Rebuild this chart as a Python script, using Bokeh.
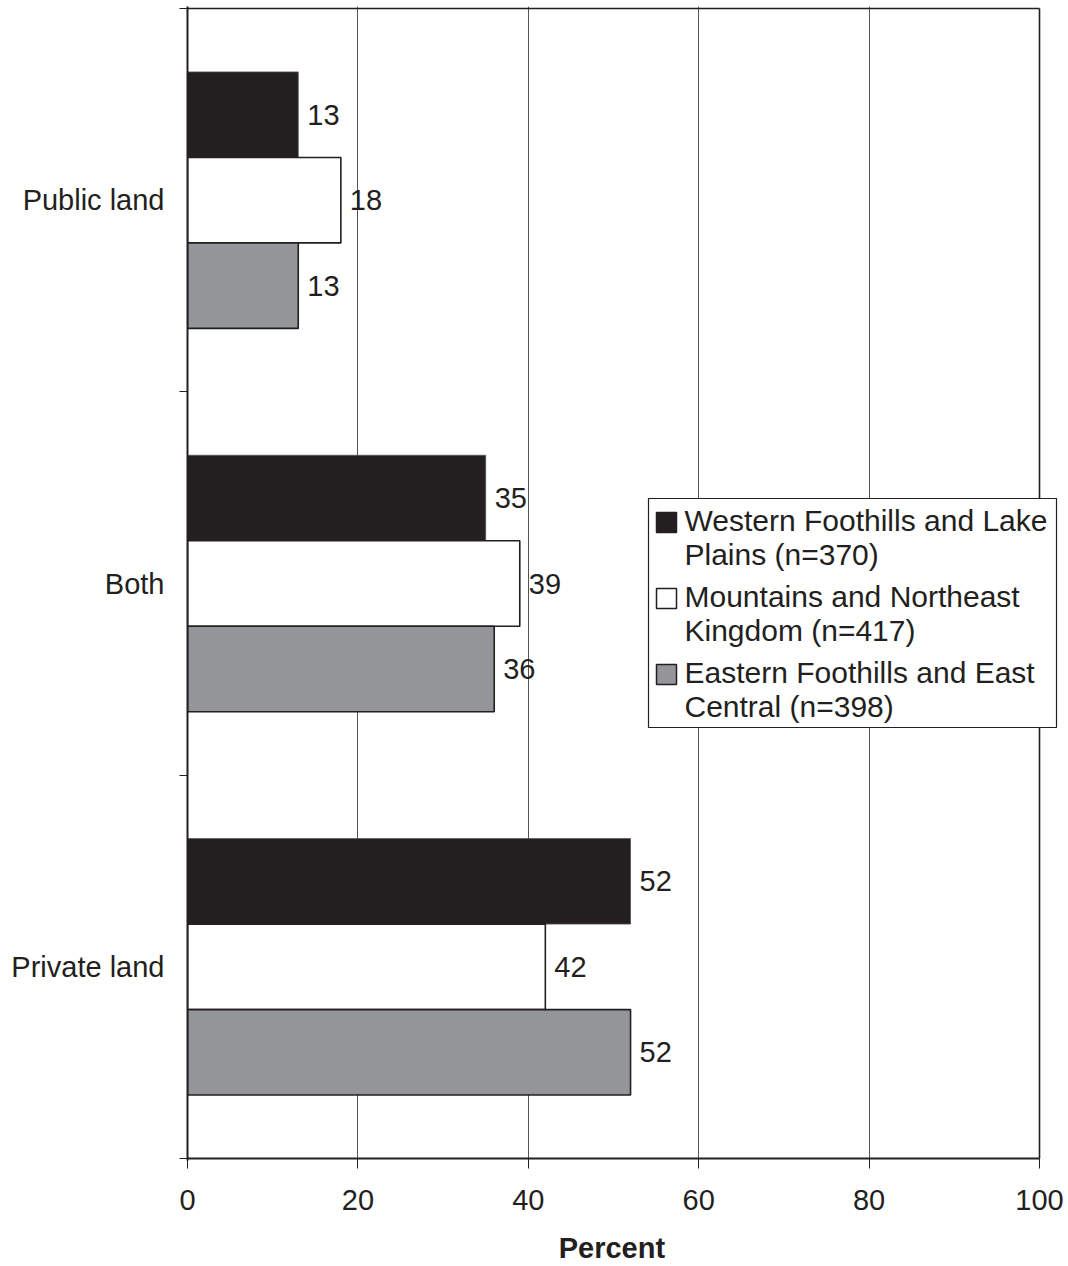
from bokeh.plotting import figure
from bokeh.models import ColumnDataSource, Range1d, FixedTicker
from bokeh.core.properties import value
from bokeh.embed import file_html
from bokeh.resources import INLINE

# Land type categories (bottom to top on the axis)
categories = ["Private land", "Both", "Public land"]

# Percent of respondents by region
western = [52, 35, 13]
mountains = [42, 39, 18]
eastern = [52, 36, 13]

series_names = [
    "Western Foothills and Lake\nPlains (n=370)",
    "Mountains and Northeast\nKingdom (n=417)",
    "Eastern Foothills and East\nCentral (n=398)",
]
x_ticks = [0, 20, 40, 60, 80, 100]

FONT = "Liberation Sans"
INK = "#231F20"
colors = [INK, "#FFFFFF", "#939598"]
offsets = [0.223, 0.0, -0.223]
bar_h = 0.223

# Page geometry (pixels)
W, H = 1068, 1266
AX_LEFT, AX_RIGHT = 187, 1039      # x = 0 and x = 100
AX_TOP, AX_BOTTOM = 8, 1158        # y = 3 and y = 0
FRAME_RIGHT = 1060                 # room for the legend box past x = 100
PAD = 2                            # keeps edge lines from being clipped

XPX = (AX_RIGHT - AX_LEFT) / 100.0
YPX = (AX_BOTTOM - AX_TOP) / 3.0

x_end = (FRAME_RIGHT - AX_LEFT) / XPX
y_start = -PAD / YPX
y_end = 3 + PAD / YPX

p = figure(width=W, height=H, output_backend="svg", toolbar_location=None,
           x_range=Range1d(0, x_end), y_range=Range1d(y_start, y_end),
           min_border_left=AX_LEFT, min_border_right=W - FRAME_RIGHT,
           min_border_top=AX_TOP - PAD, min_border_bottom=H - AX_BOTTOM - PAD)
p.background_fill_color = "white"
p.border_fill_color = "white"
p.outline_line_color = None

centers = [i + 0.5 for i in range(len(categories))]

for vals, col, off in zip([western, mountains, eastern], colors, offsets):
    ys = [c + off for c in centers]
    src = ColumnDataSource(dict(y=ys, x=vals, lab=[str(v) for v in vals]))
    p.hbar(y="y", right="x", left=0, height=bar_h, source=src,
           fill_color=col, line_color=INK if col != INK else "#555555",
           line_width=1.6 if col != INK else 0.8)
    p.text(x="x", y="y", text="lab", source=src, x_offset=9,
           text_align="left", text_baseline="middle",
           text_font=value(FONT), text_font_size="29px", text_color=INK)

# Plot box: bottom axis line, top and right borders end at x = 100
p.segment(x0=[0, 0, 100], y0=[0, 3, 0], x1=[100, 100, 100], y1=[0, 3, 3],
          line_color=INK, line_width=[2, 1.6, 1.6])

# x axis; trailing no-break spaces centre the title under 0-100
p.xaxis.ticker = FixedTicker(ticks=x_ticks)
p.xaxis.axis_label = "Percent" + "\u00a0" * 3
p.xaxis.axis_label_text_font = FONT
p.xaxis.axis_label_text_font_style = "bold"
p.xaxis.axis_label_text_font_size = "29px"
p.xaxis.axis_label_text_color = INK
p.xaxis.axis_label_standoff = 19
p.xaxis.major_label_text_font = FONT
p.xaxis.major_label_text_font_size = "29px"
p.xaxis.major_label_text_color = INK
p.xaxis.major_label_standoff = 21
p.xaxis.major_tick_out = 8
p.xaxis.major_tick_in = PAD
p.xaxis.minor_tick_out = 0
p.xaxis.axis_line_color = None
p.xaxis.major_tick_line_color = INK

# y axis: labels at category centres, ticks at category boundaries
p.yaxis.ticker = FixedTicker(ticks=centers, minor_ticks=[0, 1, 2, 3])
p.yaxis.major_label_overrides = {c: n for c, n in zip(centers, categories)}
p.yaxis.major_tick_out = 0
p.yaxis.major_tick_in = 0
p.yaxis.minor_tick_out = 8
p.yaxis.minor_tick_in = 0
p.yaxis.minor_tick_line_color = INK
p.yaxis.major_label_text_font = FONT
p.yaxis.major_label_text_font_size = "29px"
p.yaxis.major_label_text_color = INK
p.yaxis.major_label_standoff = 15
p.yaxis.axis_line_color = INK
p.yaxis.axis_line_width = 2

p.xgrid.ticker = FixedTicker(ticks=x_ticks[1:-1])
p.xgrid.grid_line_color = "#555555"
p.xgrid.grid_line_width = 1
p.ygrid.grid_line_color = None


# Legend, laid out in page pixels and converted to data units
def dx(px):
    return (px - AX_LEFT) / XPX


def dy(py):
    return (AX_BOTTOM - py) / YPX


box_l, box_r, box_t, box_b = 648, 1056, 498, 727
p.quad(left=dx(box_l), right=dx(box_r), top=dy(box_t), bottom=dy(box_b),
       fill_color="white", line_color=INK, line_width=1.2)

sw_left, sw_size, sw_top, item_pitch = 656, 20, 512, 76
text_left, first_base, line_pitch = 684, 532, 33.5
sw_src = dict(l=[], r=[], t=[], b=[], c=[])
txt_src = dict(x=[], y=[], s=[])
for i, (name, col) in enumerate(zip(series_names, colors)):
    top = sw_top + i * item_pitch
    sw_src["l"].append(dx(sw_left))
    sw_src["r"].append(dx(sw_left + sw_size))
    sw_src["t"].append(dy(top))
    sw_src["b"].append(dy(top + sw_size))
    sw_src["c"].append(col)
    for j, line in enumerate(name.split("\n")):
        txt_src["x"].append(dx(text_left))
        txt_src["y"].append(dy(first_base + i * item_pitch + j * line_pitch))
        txt_src["s"].append(line)

p.quad(left="l", right="r", top="t", bottom="b", fill_color="c",
       line_color=INK, line_width=1.5, source=ColumnDataSource(sw_src))
p.text(x="x", y="y", text="s", source=ColumnDataSource(txt_src),
       text_align="left", text_baseline="alphabetic", y_offset=-12,
       text_font=value(FONT), text_font_size="30px", text_color=INK)

open("out.html", "w").write(file_html(p, INLINE))
